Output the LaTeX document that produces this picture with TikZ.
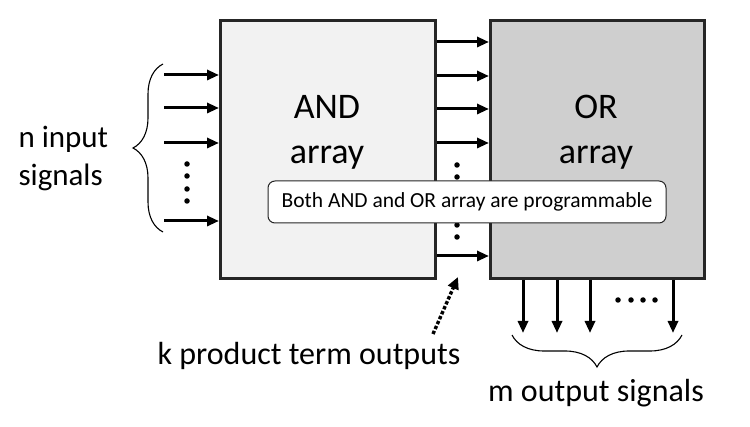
\documentclass[tikz,border=0pt]{standalone}
\usepackage{fontspec}
\setmainfont{Carlito}
\usetikzlibrary{arrows.meta, calc, decorations.pathreplacing}

\begin{document}
\begin{tikzpicture}[x=1pt, y=-1pt,
	arraybox/.style={draw=black!85, line width=3pt, anchor=north west, inner sep=0pt},
	sig/.style={line width=3pt, -{Triangle[length=12pt, width=10pt]}},
	dot/.style={circle, fill=black, inner sep=0pt, minimum size=5.5pt},
	bracepath/.style={decorate, decoration={brace, amplitude=#1}, line width=1.1pt}]
	\useasboundingbox (0,0) rectangle (750,427);
	% the two arrays
	\node [arraybox, fill=black!5, minimum width=215pt, minimum height=258pt] (AND) at (219,19) {};
	\node [arraybox, fill=black!19, minimum width=214pt, minimum height=258pt] (OR) at (489,19) {};
	\node [align=center, font=\fontsize{36}{45}\selectfont] (ANDtxt) at (327,132) {AND\\array};
	\node [align=center, font=\fontsize{36}{45}\selectfont] (ORtxt) at (596,132) {OR\\array};
	% inputs of the AND array
	\foreach \y [count=\i] in {75,108,143,221}{
		\coordinate (in\i) at (164,\y);
		\draw [sig] (in\i) -- (AND.west |- in\i);
	}
	\foreach \y in {164,176,189,201}{
		\node [dot] at (187,\y) {};
	}
	\draw [bracepath=30pt] (163,232) -- (163,64);
	\node [align=left, anchor=west, font=\fontsize{31}{38}\selectfont] (nin) at (15,159) {n input\\signals};
	% product terms between the arrays
	\foreach \y [count=\i] in {42,76,109,143,256}{
		\coordinate (pt\i) at (AND.east |- 0,\y);
		\draw [sig] (pt\i) -- (OR.west |- pt\i);
	}
	\foreach \y in {165,177,189,201,213,225,237}{
		\node [dot] at (457,\y) {};
	}
	% outputs of the OR array
	\foreach \x [count=\i] in {523,557,590,673}{
		\coordinate (out\i) at (\x,333);
		\draw [sig] (OR.south -| out\i) -- (out\i);
	}
	\foreach \x in {618,631,643,655}{
		\node [dot] at (\x,300) {};
	}
	\draw [bracepath=32pt] (682,335) -- (512,335);
	\node [font=\fontsize{32}{36}\selectfont] (mout) at (596,393) {m output signals};
	% note and pointer
	\node [draw=black!85, line width=1pt, rounded corners=7pt, fill=white, minimum width=398pt, minimum height=42pt, font=\fontsize{21.5}{24}\selectfont] (note) at (467,202) {Both AND and OR array are programmable};
	\node [font=\fontsize{32}{36}\selectfont] (kprod) at (309,356) {k product term outputs};
	\coordinate (ptrtail) at (433,334);
	\coordinate (ptr) at (458,277);
	\draw [line width=3.4pt, dotted, -{Triangle[length=12pt, width=11pt]}] (ptrtail) -- (ptr);
\end{tikzpicture}
\end{document}
